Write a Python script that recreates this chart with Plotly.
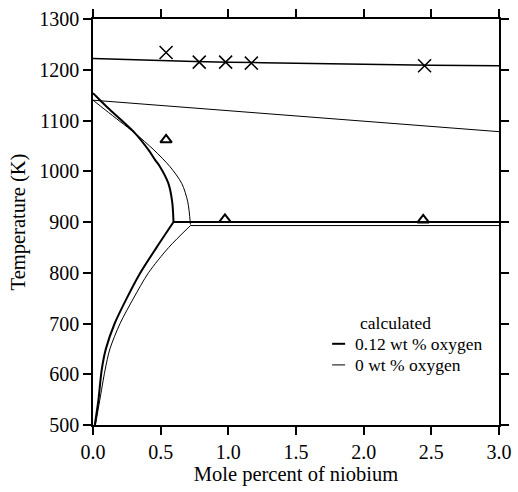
import plotly.graph_objects as go

# Liquidus-like top lines
top_thick_x = [0.0, 0.5, 1.0, 1.5, 2.0, 2.5, 3.0]
top_thick_T = [1222, 1218, 1215, 1213, 1211, 1209, 1208]
top_thin_x = [0.0, 3.0]
top_thin_T = [1140, 1078]

# 0.12 wt % oxygen (thick) solvus curves
up_thick_x = [0.0, 0.06, 0.125, 0.22, 0.31, 0.41, 0.46, 0.495, 0.557, 0.585, 0.595]
up_thick_T = [1154, 1138, 1121, 1098, 1075, 1042, 1022, 1009, 976, 940, 900]
low_thick_x = [0.595, 0.47, 0.35, 0.25, 0.16, 0.095, 0.064, 0.04, 0.013]
low_thick_T = [900, 850, 800, 750, 700, 650, 608, 549, 500]
hz_thick_x = [0.595, 3.0]
hz_thick_T = [900, 900]

# 0 wt % oxygen (thin)
up_thin_x = [0.0, 0.09, 0.2, 0.31, 0.45, 0.569, 0.656, 0.70, 0.72]
up_thin_T = [1140, 1121, 1098, 1075, 1042, 1009, 976, 940, 895]
low_thin_x = [0.72, 0.56, 0.41, 0.30, 0.20, 0.125, 0.089, 0.05, 0.018]
low_thin_T = [893, 850, 800, 750, 700, 650, 608, 549, 500]
hz_thin_x = [0.72, 3.0]
hz_thin_T = [893, 893]

# experimental points
cross_x = [0.54, 0.785, 0.98, 1.17, 2.45]
cross_T = [1234, 1215, 1215, 1213, 1208]
tri_x = [0.54, 0.975, 2.44]
tri_T = [1062, 905, 904]

fig = go.Figure()
def line(x, y, w, shape="linear"):
    fig.add_trace(go.Scatter(x=x, y=y, mode="lines",
                             line=dict(color="black", width=w, shape=shape, smoothing=0.8),
                             showlegend=False, hoverinfo="skip"))

line(top_thick_x, top_thick_T, 1.5, "spline")
line(top_thin_x, top_thin_T, 1)
line(up_thick_x, up_thick_T, 2, "spline")
line(low_thick_x, low_thick_T, 2, "spline")
line(hz_thick_x, hz_thick_T, 2)
line(up_thin_x, up_thin_T, 1, "spline")
line(low_thin_x, low_thin_T, 1, "spline")
line(hz_thin_x, hz_thin_T, 1)

fig.add_trace(go.Scatter(x=cross_x, y=cross_T, mode="markers",
                         marker=dict(symbol="x-thin-open", size=13, color="black",
                                     line=dict(color="black", width=1.5)),
                         showlegend=False))
fig.add_trace(go.Scatter(x=tri_x, y=tri_T, mode="markers",
                         marker=dict(symbol="triangle-up-open", size=10, color="black",
                                     line=dict(color="black", width=2)),
                         showlegend=False))

font = dict(family="Liberation Serif, Times New Roman, serif", size=20, color="black")
tfont = dict(family="Liberation Serif, Times New Roman, serif", size=20.5, color="black")
axis_common = dict(showline=True, linecolor="black", linewidth=1.5, mirror="ticks",
                   ticks="outside", ticklen=8, tickwidth=1.5, tickcolor="black",
                   showgrid=False, zeroline=False, tickfont=font, automargin=False)

fig.update_layout(
    width=518, height=492,
    margin=dict(l=93, r=19, t=19, b=67),
    plot_bgcolor="white", paper_bgcolor="white",
    font=font,
    xaxis=dict(range=[0, 3.0], tickvals=[0, 0.5, 1, 1.5, 2, 2.5, 3],
               ticktext=["0.0", "0.5", "1.0", "1.5", "2.0", "2.5", "3.0"],
               title=dict(text="Mole percent of niobium", font=tfont, standoff=2), **axis_common),
    yaxis=dict(range=[500, 1300], tickvals=list(range(500, 1301, 100)),
               title=dict(text="Temperature (K)", font=tfont, standoff=8), **axis_common),
    showlegend=False,
)

# custom legend
lf = dict(family="Liberation Serif, Times New Roman, serif", size=17.5, color="black")
fig.add_annotation(xref="paper", yref="paper", x=0.744, y=0.251, text="calculated",
                   showarrow=False, font=lf, xanchor="center", yanchor="middle")
fig.add_annotation(xref="paper", yref="paper", x=0.64, y=0.200, text="0.12 wt % oxygen",
                   showarrow=False, font=lf, xanchor="left", yanchor="middle")
fig.add_annotation(xref="paper", yref="paper", x=0.64, y=0.148, text="0 wt % oxygen",
                   showarrow=False, font=lf, xanchor="left", yanchor="middle")
fig.add_shape(type="line", xref="paper", yref="paper", x0=0.589, x1=0.621, y0=0.200, y1=0.200,
              line=dict(color="black", width=2))
fig.add_shape(type="line", xref="paper", yref="paper", x0=0.589, x1=0.621, y0=0.148, y1=0.148,
              line=dict(color="black", width=1))

fig.write_html("out.html")
